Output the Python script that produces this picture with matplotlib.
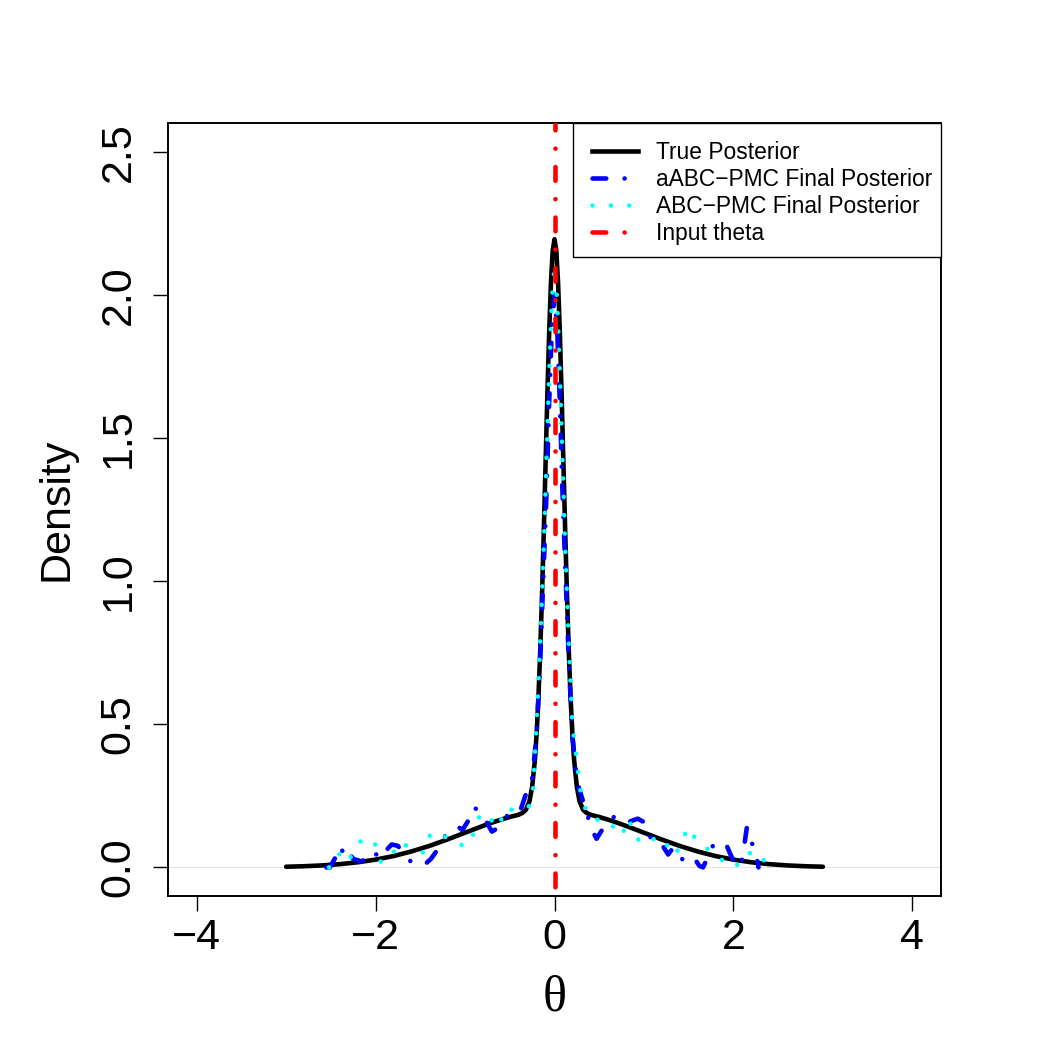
import matplotlib
matplotlib.use("Agg")
import matplotlib.pyplot as plt
from matplotlib.lines import Line2D
from matplotlib.patches import Rectangle

# ---------------- data ----------------
true_x = [-3.0, -2.8, -2.6, -2.4, -2.2, -2.0, -1.8, -1.6, -1.4, -1.2, -1.0, -0.9, -0.8, -0.7,
          -0.6, -0.5, -0.4, -0.36, -0.32, -0.28, -0.25, -0.22, -0.2, -0.18, -0.16, -0.14,
          -0.12, -0.1, -0.08, -0.06, -0.04, -0.02, 0.0, 0.02, 0.04, 0.06, 0.08, 0.1, 0.12,
          0.14, 0.16, 0.18, 0.2, 0.22, 0.25, 0.28, 0.32, 0.36, 0.4, 0.5, 0.6, 0.7, 0.8,
          0.9, 1.0, 1.2, 1.4, 1.6, 1.8, 2.0, 2.2, 2.4, 2.6, 2.8, 3.0]
true_y = [0.0022, 0.0040, 0.0068, 0.0112, 0.0178, 0.0270, 0.0395, 0.0555, 0.0748, 0.0971,
          0.121, 0.133, 0.1448, 0.1561, 0.1666, 0.176, 0.184, 0.190, 0.201, 0.231, 0.281,
          0.372, 0.465, 0.591, 0.752, 0.946, 1.169, 1.408, 1.647, 1.865, 2.041, 2.155, 2.194,
          2.155, 2.041, 1.865, 1.647, 1.408, 1.169, 0.946, 0.752, 0.591, 0.465, 0.372, 0.281,
          0.231, 0.201, 0.190, 0.184, 0.176, 0.1666, 0.1561, 0.1448, 0.133, 0.121, 0.0971,
          0.0748, 0.0555, 0.0395, 0.0270, 0.0178, 0.0112, 0.0068, 0.0040, 0.0022]

aabc_x = [-2.55, -2.51, -2.43, -2.39, -2.36, -2.25, -2.15, -2.08, -2.02, -1.95, -1.88, -1.82,
          -1.75, -1.65, -1.55, -1.45, -1.38, -1.30, -1.22, -1.15, -1.07, -1.03, -0.97, -0.91,
          -0.85, -0.78, -0.70, -0.62, -0.53, -0.45, -0.39, -0.31, -0.25, -0.2, -0.16, -0.12,
          -0.09, -0.06, -0.03, 0.0, 0.03, 0.06, 0.09, 0.12, 0.16, 0.2, 0.25, 0.32, 0.37, 0.42,
          0.47, 0.53, 0.60, 0.68, 0.76, 0.84, 0.93, 0.99, 1.03, 1.10, 1.16, 1.22, 1.27, 1.33,
          1.38, 1.43, 1.50, 1.55, 1.62, 1.66, 1.72, 1.77, 1.84, 1.91, 1.96, 2.02, 2.06, 2.10,
          2.15, 2.19, 2.24, 2.28]
aabc_y = [0.0, 0.0, 0.045, 0.03, 0.075, 0.03, 0.02, 0.05, 0.055, 0.03, 0.06, 0.08,
          0.075, 0.03, 0.01, 0.01, 0.03, 0.065, 0.11, 0.135, 0.14, 0.13, 0.16, 0.21,
          0.20, 0.17, 0.125, 0.14, 0.18, 0.19, 0.19, 0.265, 0.31, 0.46, 0.72, 1.05,
          1.30, 1.62, 1.88, 2.0, 1.88, 1.62, 1.30, 1.05, 0.72, 0.46, 0.30, 0.23, 0.18, 0.13,
          0.10, 0.13, 0.16, 0.18, 0.175, 0.16, 0.17, 0.16, 0.115, 0.10, 0.10, 0.07, 0.045, 0.07,
          0.05, 0.028, 0.04, 0.038, 0.005, 0.0, 0.04, 0.075, 0.085, 0.087, 0.05, 0.01, 0.0, 0.03,
          0.14, 0.09, 0.07, 0.0]

abc_x = [-2.52, -2.48, -2.39, -2.30, -2.15, -2.01, -1.95, -1.83, -1.75, -1.60, -1.47, -1.40,
         -1.30, -1.15, -0.99, -0.88, -0.83, -0.76, -0.62, -0.56, -0.44, -0.29, -0.24, -0.2,
         -0.16, -0.12, -0.09, -0.06, -0.03, 0.0, 0.03, 0.06, 0.09, 0.12, 0.16, 0.2, 0.285,
         0.35, 0.45, 0.55, 0.665, 0.75, 0.83, 0.90, 1.02, 1.16, 1.25, 1.35, 1.44, 1.50, 1.60,
         1.75, 1.85, 2.02, 2.14, 2.29, 2.38]
abc_y = [0.0, 0.0, 0.055, 0.025, 0.10, 0.087, 0.02, 0.03, 0.087, 0.07, 0.052, 0.11,
         0.125, 0.09, 0.073, 0.13, 0.19, 0.18, 0.14, 0.205, 0.20, 0.21, 0.275, 0.5,
         0.78, 1.12, 1.42, 1.72, 1.98, 2.1, 1.98, 1.72, 1.42, 1.12, 0.78, 0.5, 0.275,
         0.20, 0.165, 0.17, 0.14, 0.11, 0.17, 0.105, 0.08, 0.11, 0.08, 0.042, 0.105, 0.14, 0.087,
         0.056, 0.03, 0.0, 0.049, 0.052, 0.0]

input_theta = 0.0

x_ticks = [-4, -2, 0, 2, 4]
x_tick_labels = ["\u22124", "\u22122", "0", "2", "4"]
y_ticks = [0.0, 0.5, 1.0, 1.5, 2.0, 2.5]
y_tick_labels = ["0.0", "0.5", "1.0", "1.5", "2.0", "2.5"]

legend_labels = ["True Posterior", "aABC\u2212PMC Final Posterior",
                 "ABC\u2212PMC Final Posterior", "Input theta"]

# ---------------- plot ----------------
plt.rcParams['font.family'] = ['Liberation Sans', 'DejaVu Sans']

W = H = 1050.0
fig = plt.figure(figsize=(10.5, 10.5), dpi=100)
ax = fig.add_axes([168 / W, 1 - 896 / H, (941 - 168) / W, (896 - 123) / H])

LW = 3.3
dotdash = (0, (3, 4, 0.01, 4))
dotted = (0, (0.01, 4))

ax.axhline(0, color="#d8d8d8", lw=0.5, zorder=1)
ax.plot(true_x, true_y, color="black", lw=LW, solid_capstyle="round", zorder=2)
ax.plot(aabc_x, aabc_y, color="blue", lw=LW, linestyle=dotdash, dash_capstyle="round", zorder=3)
ax.plot(abc_x, abc_y, color="cyan", lw=LW, linestyle=dotted, dash_capstyle="round", zorder=4)
ax.axvline(input_theta, color="red", lw=LW, linestyle=(9, (3, 4, 0.01, 4)),
           dash_capstyle="round", zorder=5)

ax.set_xlim(-4.32, 4.32)
ax.set_ylim(-0.1, 2.6)

ax.set_xticks(x_ticks)
ax.set_xticklabels(x_tick_labels, fontsize=31)
ax.set_yticks(y_ticks)
ax.set_yticklabels(y_tick_labels, fontsize=31, rotation=90, va="center")
ax.tick_params(axis="both", direction="out", length=11, width=1.0, color="black")
ax.tick_params(axis="x", pad=5)
ax.tick_params(axis="y", pad=10)

for sp in ax.spines.values():
    sp.set_linewidth(1.4)
    sp.set_color("black")

ax.set_xlabel("\u03b8", fontsize=36, family=["Liberation Serif", "DejaVu Serif"], labelpad=12)
ax.set_ylabel("Density", fontsize=31, labelpad=16)

# legend frame (box drawn separately so the padding matches the reference)
frame = Rectangle((573 / W, 1 - 257 / H), (941 - 573) / W, (257 - 123) / H,
                  transform=fig.transFigure, facecolor="white", edgecolor="black",
                  lw=1.0, zorder=9)
fig.add_artist(frame)

handles = [
    Line2D([], [], color="black", lw=LW),
    Line2D([], [], color="blue", lw=LW, linestyle=dotdash, dash_capstyle="round"),
    Line2D([], [], color="cyan", lw=LW, linestyle=dotted, dash_capstyle="round"),
    Line2D([], [], color="red", lw=LW, linestyle=dotdash, dash_capstyle="round"),
]
leg = fig.legend(handles, legend_labels, loc="upper left",
                 bbox_to_anchor=(592 / W, 1 - 141 / H), bbox_transform=fig.transFigure,
                 borderaxespad=0, borderpad=0, fontsize=16.4, handlelength=2.0,
                 handletextpad=0.8, labelspacing=0.17, frameon=False)
leg.set_zorder(10)

fig.savefig("out.png", dpi=100, facecolor="white")
